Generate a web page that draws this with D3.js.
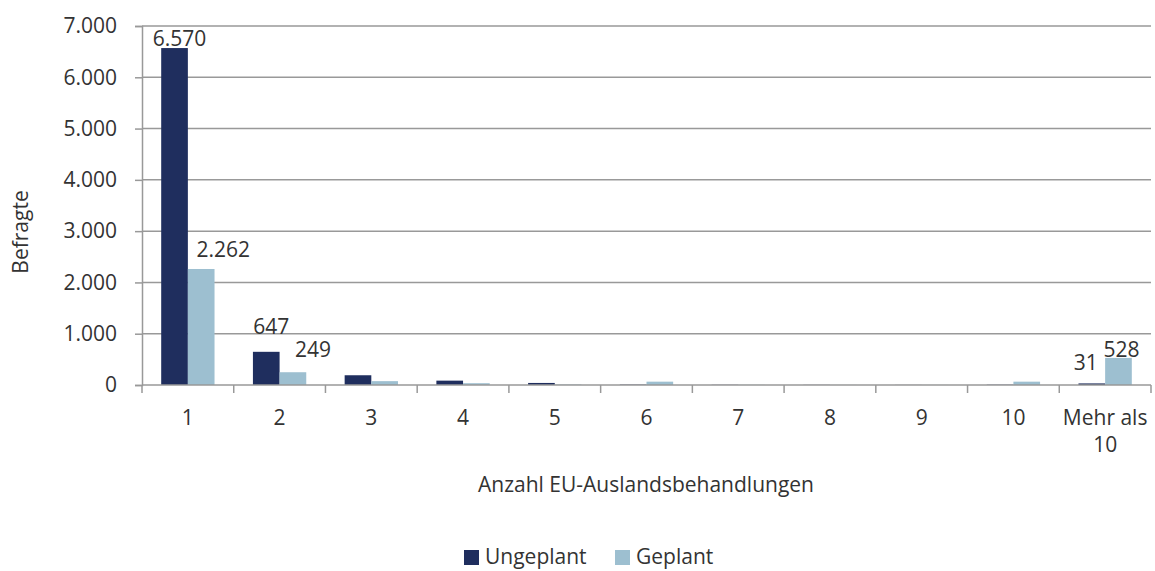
<!DOCTYPE html>
<html>
<head>
<meta charset="utf-8">
<script src="https://cdn.jsdelivr.net/npm/d3@7"></script>
<style>
  body { margin: 0; background: #fff; }
  svg text { font-family: "Open Sans", "Noto Sans", sans-serif; fill: #333; }
</style>
</head>
<body>
<svg width="1155" height="571"></svg>
<script>
// data
let categories = ["1", "2", "3", "4", "5", "6", "7", "8", "9", "10", "Mehr als 10"];
let series = ["Ungeplant", "Geplant"];
let ungeplant = [6570, 647, 190, 85, 40, 8, 4, 3, 2, 6, 31];
let geplant = [2262, 249, 75, 35, 10, 65, 3, 2, 2, 65, 528];
let yTicks = [0, 1000, 2000, 3000, 4000, 5000, 6000, 7000];
// which bars carry a value label
let labelled = [
  { cat: "1", s: "Ungeplant" }, { cat: "1", s: "Geplant" },
  { cat: "2", s: "Ungeplant" }, { cat: "2", s: "Geplant" },
  { cat: "Mehr als 10", s: "Ungeplant" }, { cat: "Mehr als 10", s: "Geplant" }
];

let colors = { "Ungeplant": "#1f2e5e", "Geplant": "#9dbfd0" };
// hand placement of the labels, like in the original
let labelNudge = {
  "1|Ungeplant": [5, -2], "1|Geplant": [22, -12],
  "2|Ungeplant": [5, -18], "2|Geplant": [20, -15],
  "Mehr als 10|Ungeplant": [-6, -13], "Mehr als 10|Geplant": [3, -1]
};

let svg = d3.select("svg"),
    mLeft = 142, mRight = 1151, mTop = 26, mBottom = 385;

let de = d3.formatLocale({ decimal: ",", thousands: ".", grouping: [3], currency: ["", " €"] });
let fmt = de.format(",d");

let x0 = d3.scaleBand().domain(categories).range([mLeft, mRight]);
let x1 = d3.scaleBand().domain(series).range([0, x0.bandwidth()]).paddingOuter(0.72);
let y = d3.scaleLinear().domain([0, 7000]).range([mBottom, mTop]);

let rows = categories.map(function(c, i) {
  return { cat: c, Ungeplant: ungeplant[i], Geplant: geplant[i] };
});

// gridlines
svg.append("g")
  .selectAll("line")
  .data(yTicks.filter(function(d) { return d > 0; }))
  .enter().append("line")
    .attr("x1", mLeft).attr("x2", mRight)
    .attr("y1", function(d) { return y(d); })
    .attr("y2", function(d) { return y(d); })
    .attr("stroke", "#999").attr("stroke-width", 1.5);

// y axis
let yAxis = svg.append("g")
  .attr("transform", "translate(" + mLeft + ",0)")
  .call(d3.axisLeft(y).tickValues(yTicks).tickFormat(fmt).tickSize(7).tickPadding(18));
yAxis.select(".domain").attr("stroke", "#999").attr("stroke-width", 1.5);
yAxis.selectAll(".tick line").attr("stroke", "#999").attr("stroke-width", 1.5);
yAxis.selectAll("text").style("font-size", "21px").attr("fill", "#333");

// bars
let groups = svg.append("g")
  .selectAll("g")
  .data(rows)
  .enter().append("g")
  .attr("transform", function(d) { return "translate(" + x0(d.cat) + ",0)"; });

groups.selectAll("rect")
  .data(function(d) { return series.map(function(s) { return { cat: d.cat, s: s, v: d[s] }; }); })
  .enter().append("rect")
    .attr("x", function(d) { return x1(d.s); })
    .attr("width", x1.bandwidth())
    .attr("y", function(d) { return y(d.v); })
    .attr("height", function(d) { return mBottom - y(d.v); })
    .attr("fill", function(d) { return colors[d.s]; });

// x axis line and ticks between categories
svg.append("line")
  .attr("x1", mLeft).attr("x2", mRight)
  .attr("y1", mBottom).attr("y2", mBottom)
  .attr("stroke", "#999").attr("stroke-width", 1.5);

let bounds = categories.map(function(c) { return x0(c); }).concat([mRight]);
svg.append("g")
  .selectAll("line")
  .data(bounds)
  .enter().append("line")
    .attr("x1", function(d) { return d; }).attr("x2", function(d) { return d; })
    .attr("y1", mBottom).attr("y2", mBottom + 8)
    .attr("stroke", "#999").attr("stroke-width", 1.5);

// category labels
let catText = svg.append("g")
  .selectAll("text")
  .data(categories)
  .enter().append("text")
    .attr("x", function(d) { return x0(d) + x0.bandwidth() / 2; })
    .attr("y", 425)
    .attr("text-anchor", "middle")
    .style("font-size", "21px");

catText.each(function(d) {
  let t = d3.select(this);
  if (d === "Mehr als 10") {
    t.append("tspan").attr("x", t.attr("x")).text("Mehr als");
    t.append("tspan").attr("x", t.attr("x")).attr("dy", 27).text("10");
  } else {
    t.text(d);
  }
});

// value labels
svg.append("g")
  .selectAll("text")
  .data(labelled)
  .enter().append("text")
    .attr("x", function(d) {
      return x0(d.cat) + x1(d.s) + x1.bandwidth() / 2 + labelNudge[d.cat + "|" + d.s][0];
    })
    .attr("y", function(d) {
      let i = categories.indexOf(d.cat);
      let v = d.s === "Ungeplant" ? ungeplant[i] : geplant[i];
      return y(v) + labelNudge[d.cat + "|" + d.s][1];
    })
    .attr("text-anchor", "middle")
    .style("font-size", "21px")
    .text(function(d) {
      let i = categories.indexOf(d.cat);
      return fmt(d.s === "Ungeplant" ? ungeplant[i] : geplant[i]);
    });

// axis titles
svg.append("text")
  .attr("transform", "translate(28,232) rotate(-90)")
  .attr("text-anchor", "middle")
  .style("font-size", "21px")
  .text("Befragte");

svg.append("text")
  .attr("x", 646).attr("y", 492)
  .attr("text-anchor", "middle")
  .style("font-size", "21px")
  .text("Anzahl EU-Auslandsbehandlungen");

// legend
let legend = svg.append("g")
  .selectAll("g")
  .data(series)
  .enter().append("g")
  .attr("transform", function(d, i) { return "translate(" + [464, 615][i] + ",550)"; });

legend.append("rect")
  .attr("width", 15).attr("height", 15)
  .attr("fill", function(d) { return colors[d]; });

legend.append("text")
  .attr("x", 21).attr("y", 14)
  .style("font-size", "21px")
  .text(function(d) { return d; });
</script>
</body>
</html>
